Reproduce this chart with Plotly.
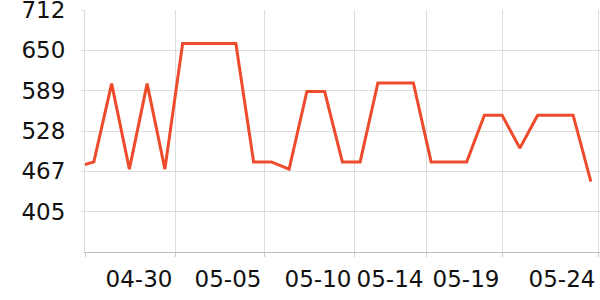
import plotly.graph_objects as go

dates = [
    "2024-04-25 00:00", "2024-04-25 12:00", "2024-04-26 12:00", "2024-04-27 12:00",
    "2024-04-28 12:00", "2024-04-29 12:00", "2024-04-30 12:00", "2024-05-01 12:00",
    "2024-05-02 12:00", "2024-05-03 12:00", "2024-05-04 12:00", "2024-05-05 12:00",
    "2024-05-06 12:00", "2024-05-07 12:00", "2024-05-08 12:00", "2024-05-09 12:00",
    "2024-05-10 12:00", "2024-05-11 12:00", "2024-05-12 12:00", "2024-05-13 12:00",
    "2024-05-14 12:00", "2024-05-15 12:00", "2024-05-16 12:00", "2024-05-17 12:00",
    "2024-05-18 12:00", "2024-05-19 12:00", "2024-05-20 12:00", "2024-05-21 12:00",
    "2024-05-22 12:00", "2024-05-23 12:00",
]
values = [
    477, 481, 600, 470, 600, 470, 661, 661, 661, 661,
    481, 481, 470, 588, 588, 481, 481, 601, 601, 601,
    481, 481, 481, 552, 552, 502, 552, 552, 552, 451,
]

x_tick_vals = ["2024-04-25 00:00", "2024-04-30 01:41", "2024-05-05 02:02",
               "2024-05-10 03:43", "2024-05-14 05:04", "2024-05-18 11:50",
               "2024-05-23 21:38"]
x_tick_text = ["", "04-30", "05-05", "05-10", "05-14", "05-19", "05-24"]

y_tick_vals = [405.33, 466.67, 528.0, 589.33, 650.67, 711.95]
y_tick_text = ["405", "467", "528", "589", "650", "712"]
y_range = [344, 712]
x_range = ["2024-04-25 00:00", "2024-05-24 00:20"]

fig = go.Figure()
fig.add_trace(go.Scatter(
    x=dates, y=values, mode="lines",
    line=dict(color="#ee4a2c", width=3),
    hoverinfo="skip",
))

font = dict(family="DejaVu Sans", size=23, color="#111")
fig.update_layout(
    width=600, height=300,
    margin=dict(l=85, r=0, t=10, b=48, autoexpand=False),
    paper_bgcolor="white", plot_bgcolor="white",
    showlegend=False,
    font=font,
)
fig.update_xaxes(
    type="date", range=x_range, automargin=False,
    tickvals=x_tick_vals, ticktext=x_tick_text,
    showgrid=True, gridcolor="#dddddd", gridwidth=1,
    ticks="outside", ticklen=4, tickcolor="#cccccc",
    showline=True, linecolor="#bbbbbb", linewidth=1,
    tickfont=font, ticklabelshift=-36, ticklabelstandoff=2,
    ticklabeloverflow="allow",
    zeroline=False,
)
fig.update_yaxes(
    range=y_range, automargin=False,
    tickvals=y_tick_vals, ticktext=y_tick_text,
    showgrid=True, gridcolor="#dddddd", gridwidth=1,
    ticks="outside", ticklen=3, tickcolor="#dddddd",
    showline=True, linecolor="#dddddd", linewidth=1,
    tickfont=font, ticklabelstandoff=11,
    ticklabeloverflow="allow",
    zeroline=False,
)

fig.write_html("out.html")
